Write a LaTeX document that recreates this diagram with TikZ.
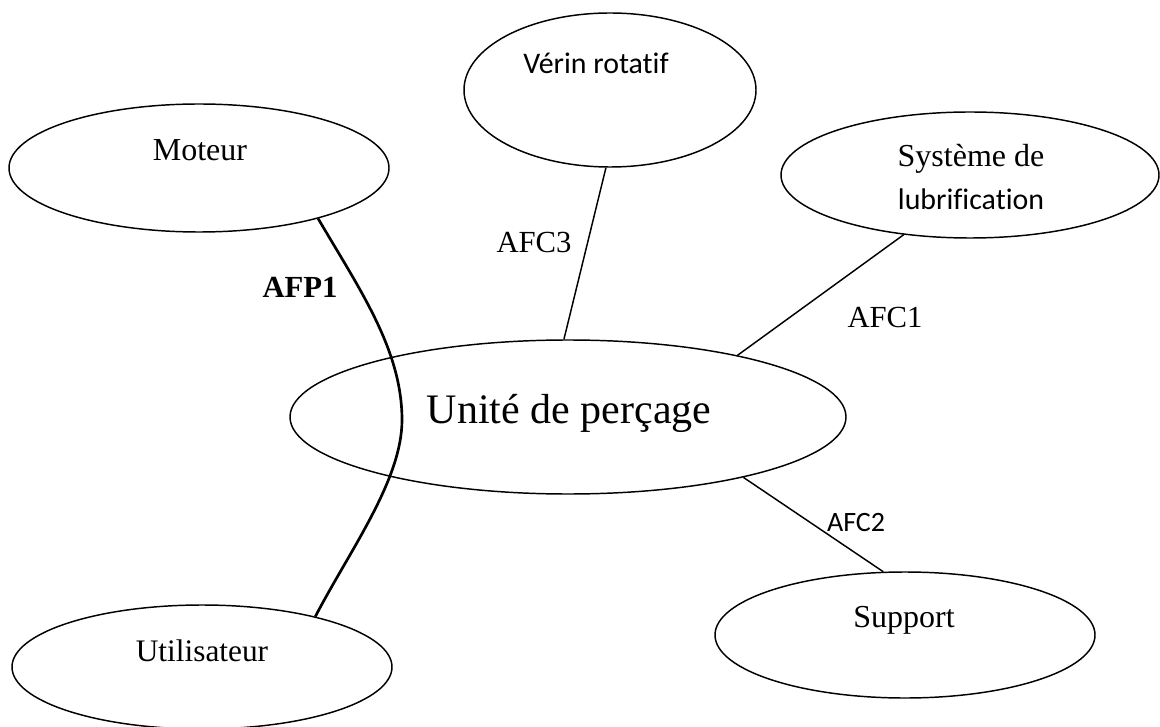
\documentclass[tikz,border=0pt]{standalone}
\usepackage{fontspec}
\setmainfont{Liberation Serif}
\newfontfamily\calibrifont[Ligatures=NoCommon]{Carlito}
\usetikzlibrary{shapes.geometric}
\begin{document}
\begin{tikzpicture}[x=0.75pt,y=-0.75pt,
  entity/.style n args={2}{draw, line width=1.1pt, ellipse, inner sep=0pt,
    minimum width=#1, minimum height=#2},
  link/.style={line width=1.1pt},
  mainlink/.style={line width=2pt},
  serif/.style={inner sep=0pt, anchor=base, font=\fontsize{24pt}{28pt}\selectfont},
  sans/.style={inner sep=0pt, anchor=base, font=\calibrifont\fontsize{22.4pt}{27pt}\selectfont}]
\useasboundingbox (0,0) rectangle (1160,727);

% the six elements of the environment diagram
\node[entity={285pt}{96pt}]    (mot) at (199,168) {};
\node[entity={219pt}{115.5pt}] (ver) at (610,90)  {};
\node[entity={283.5pt}{94.5pt}] (lub) at (970,175) {};
\node[entity={417pt}{115.5pt}] (uni) at (568,417) {};
\node[entity={285pt}{94.5pt}]  (sup) at (905,635) {};
\node[entity={285pt}{93pt}]    (usr) at (202,667) {};

% texts of the elements
\node[serif] (tmot) at (200,161) {Moteur};
\node[sans]  (tver) at (596,74)  {Vérin rotatif};
\node[serif] (tlub1) at (971,167) {Système de};
\node[sans]  (tlub2) at (971,210) {lubrification};
\node[serif, font=\fontsize{31.5pt}{36pt}\selectfont] (tuni) at (569,423) {Unité de perçage};
\node[serif] (tsup) at (904,627) {Support};
\node[serif, font=\fontsize{23.5pt}{28pt}\selectfont] (tusr) at (202,661) {Utilisateur};

% constraint functions
\draw[link] (ver.267) -- (uni.93);
\draw[link] (lub.222.3) -- (uni.20.1);
\draw[link] (uni.-19.4) -- (sup.109.3);

% principal function, crossing the product
\coordinate (bend) at (402,420);
\draw[mainlink] (mot.-23.6) .. controls (360,290) and (402,350) .. (bend)
  .. controls (402,480) and (350,550) .. (usr.24.3);

% function labels
\node[serif, font=\bfseries\fontsize{23pt}{28pt}\selectfont] (lafp1) at (300,297) {AFP1};
\node[serif, font=\fontsize{23pt}{28pt}\selectfont] (lafc3) at (534,253) {AFC3};
\node[serif, font=\fontsize{23pt}{28pt}\selectfont] (lafc1) at (885,328) {AFC1};
\node[sans, font=\calibrifont\fontsize{21pt}{26pt}\selectfont] (lafc2) at (856,531) {AFC2};
\end{tikzpicture}
\end{document}
